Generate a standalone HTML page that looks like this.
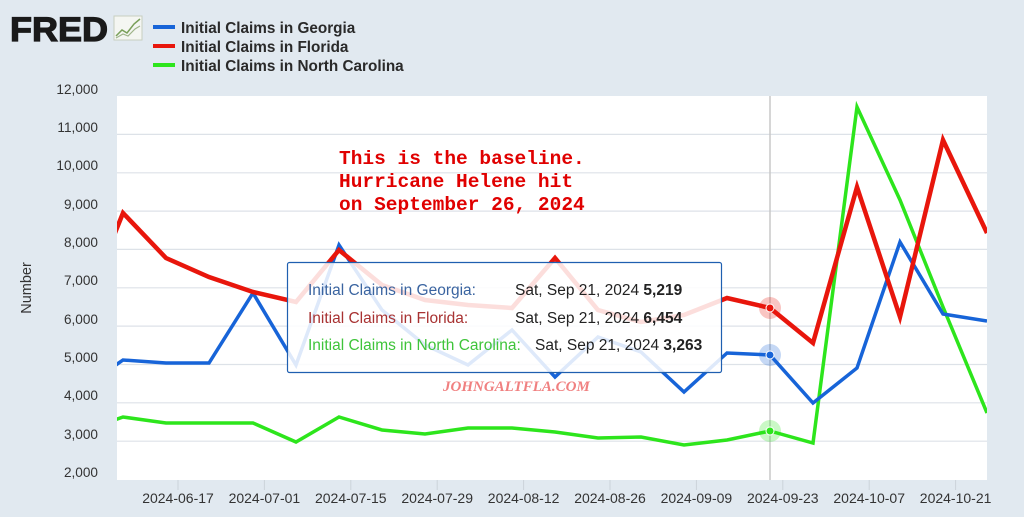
<!DOCTYPE html>
<html><head><meta charset="utf-8"><style>
html,body{margin:0;padding:0;background:#e1e9f0;}
svg{display:block;font-family:"Liberation Sans",sans-serif;}
</style></head><body>
<svg width="1024" height="517" viewBox="0 0 1024 517" xmlns="http://www.w3.org/2000/svg">
<rect width="1024" height="517" fill="#e1e9f0"/>
<!-- logo -->
<text x="10" y="41" font-size="34" font-weight="bold" fill="#1a1a1a" stroke="#1a1a1a" stroke-width="1.2" textLength="98" lengthAdjust="spacingAndGlyphs">FRED</text>
<rect x="114" y="16" width="28" height="24" fill="#f4f6f2" stroke="#c8cfc0" stroke-width="1"/>
<polyline points="116,36 122,30 127,33 134,24 140,19" fill="none" stroke="#7aa05a" stroke-width="1.5"/>
<polyline points="116,38 123,34 128,36 135,29 140,26" fill="none" stroke="#9fb48a" stroke-width="1.2"/>
<!-- legend -->
<g font-size="15.3" font-weight="bold" fill="#2a2a2a">
<rect x="153" y="25" width="22" height="4" fill="#1764d8"/><text x="181" y="33">Initial Claims in Georgia</text>
<rect x="153" y="44" width="22" height="4" fill="#e8160c"/><text x="181" y="52">Initial Claims in Florida</text>
<rect x="153" y="63" width="22" height="4" fill="#2de51c"/><text x="181" y="71">Initial Claims in North Carolina</text>
</g>
<!-- plot -->
<rect x="117" y="96" width="870" height="384" fill="#fff"/>
<g stroke="#dde2e8" stroke-width="1.2">
<line x1="117" x2="987" y1="134.4" y2="134.4"/><line x1="117" x2="987" y1="172.8" y2="172.8"/>
<line x1="117" x2="987" y1="211.1" y2="211.1"/><line x1="117" x2="987" y1="249.4" y2="249.4"/>
<line x1="117" x2="987" y1="287.8" y2="287.8"/><line x1="117" x2="987" y1="326.1" y2="326.1"/>
<line x1="117" x2="987" y1="364.5" y2="364.5"/><line x1="117" x2="987" y1="402.8" y2="402.8"/>
<line x1="117" x2="987" y1="441.2" y2="441.2"/>
</g>
<g stroke="#ccd3da" stroke-width="1">
<line x1="178" x2="178" y1="480" y2="490"/><line x1="264.4" x2="264.4" y1="480" y2="490"/>
<line x1="350.8" x2="350.8" y1="480" y2="490"/><line x1="437.2" x2="437.2" y1="480" y2="490"/>
<line x1="523.6" x2="523.6" y1="480" y2="490"/><line x1="610" x2="610" y1="480" y2="490"/>
<line x1="696.4" x2="696.4" y1="480" y2="490"/><line x1="782.8" x2="782.8" y1="480" y2="490"/>
<line x1="869.2" x2="869.2" y1="480" y2="490"/><line x1="955.6" x2="955.6" y1="480" y2="490"/>
</g>
<g font-size="13.6" fill="#333" text-anchor="end">
<text x="98" y="94">12,000</text><text x="98" y="132">11,000</text><text x="98" y="170">10,000</text>
<text x="98" y="209">9,000</text><text x="98" y="247">8,000</text><text x="98" y="285">7,000</text>
<text x="98" y="324">6,000</text><text x="98" y="362">5,000</text><text x="98" y="400">4,000</text>
<text x="98" y="439">3,000</text><text x="98" y="477">2,000</text>
</g>
<text transform="translate(31,288) rotate(-90)" font-size="14.5" fill="#333" text-anchor="middle">Number</text>
<g font-size="14" fill="#333" text-anchor="middle">
<text x="178" y="503">2024-06-17</text><text x="264.4" y="503">2024-07-01</text><text x="350.8" y="503">2024-07-15</text>
<text x="437.2" y="503">2024-07-29</text><text x="523.6" y="503">2024-08-12</text><text x="610" y="503">2024-08-26</text>
<text x="696.4" y="503">2024-09-09</text><text x="782.8" y="503">2024-09-23</text><text x="869.2" y="503">2024-10-07</text>
<text x="955.6" y="503">2024-10-21</text>
</g>
<line x1="770" x2="770" y1="96" y2="480" stroke="#c8c8c8" stroke-width="1.5"/>
<defs><clipPath id="c"><rect x="117" y="90" width="870" height="390"/></clipPath></defs>
<g clip-path="url(#c)" fill="none" stroke-linejoin="miter">
<polyline stroke="#2de51c" stroke-width="3.5" points="80,432 123,417 166,423 209,423 253,423 296,442 339,417 382,430 425,434 468,428 512,428 555,432 598,438 641,437 684,445 727,440 770,431 813,443 857,107 900,200 943,307 987,413"/>
<polyline stroke="#1764d8" stroke-width="3.5" points="80,390 123,360 166,363 209,363 253,293 296,365 339,245 382,310 425,345 468,365 512,330 555,377 598,337 641,352 684,392 727,353 770,355 813,403 857,368 900,242 943,314 987,321"/>
<polyline stroke="#e8160c" stroke-width="4.5" points="80,320 123,213 166,258 209,277 253,292 296,302 339,250 382,285 425,300 468,305 512,308 555,258 598,310 641,322 684,315 727,298 770,308 813,343 857,187 900,317 943,140 987,233"/>
</g>
<!-- annotation -->
<g font-family="'Liberation Mono',monospace" font-weight="bold" font-size="19.5" fill="#e00000">
<text x="339" y="164">This is the baseline.</text>
<text x="339" y="187">Hurricane Helene hit</text>
<text x="339" y="210">on September 26, 2024</text>
</g>
<!-- tooltip -->
<rect x="287.5" y="262.5" width="434" height="110" rx="2" fill="#fff" fill-opacity="0.86" stroke="#1f5fb0" stroke-width="1.2"/>
<g font-size="15.5">
<text x="308" y="295" fill="#3a64a0">Initial Claims in Georgia:</text>
<text x="308" y="323" fill="#a83232">Initial Claims in Florida:</text>
<text x="308" y="350" fill="#3fc43a">Initial Claims in North Carolina:</text>
<text x="515" y="295" fill="#222">Sat, Sep 21, 2024 <tspan font-weight="bold">5,219</tspan></text>
<text x="515" y="323" fill="#222">Sat, Sep 21, 2024 <tspan font-weight="bold">6,454</tspan></text>
<text x="535" y="350" fill="#222">Sat, Sep 21, 2024 <tspan font-weight="bold">3,263</tspan></text>
</g>
<text x="443" y="391" font-family="'Liberation Serif',serif" font-style="italic" font-weight="bold" font-size="15" fill="#f08080">JOHNGALTFLA.COM</text>
<!-- markers -->
<circle cx="770" cy="308" r="11" fill="#e8160c" fill-opacity="0.25"/>
<circle cx="770" cy="308" r="4" fill="#e8160c" stroke="#fff" stroke-width="1"/>
<circle cx="770" cy="355" r="11" fill="#1764d8" fill-opacity="0.25"/>
<circle cx="770" cy="355" r="4" fill="#1764d8" stroke="#fff" stroke-width="1"/>
<circle cx="770" cy="431" r="11" fill="#2de51c" fill-opacity="0.25"/>
<circle cx="770" cy="431" r="4" fill="#2de51c" stroke="#fff" stroke-width="1"/>
</svg>
</body></html>
